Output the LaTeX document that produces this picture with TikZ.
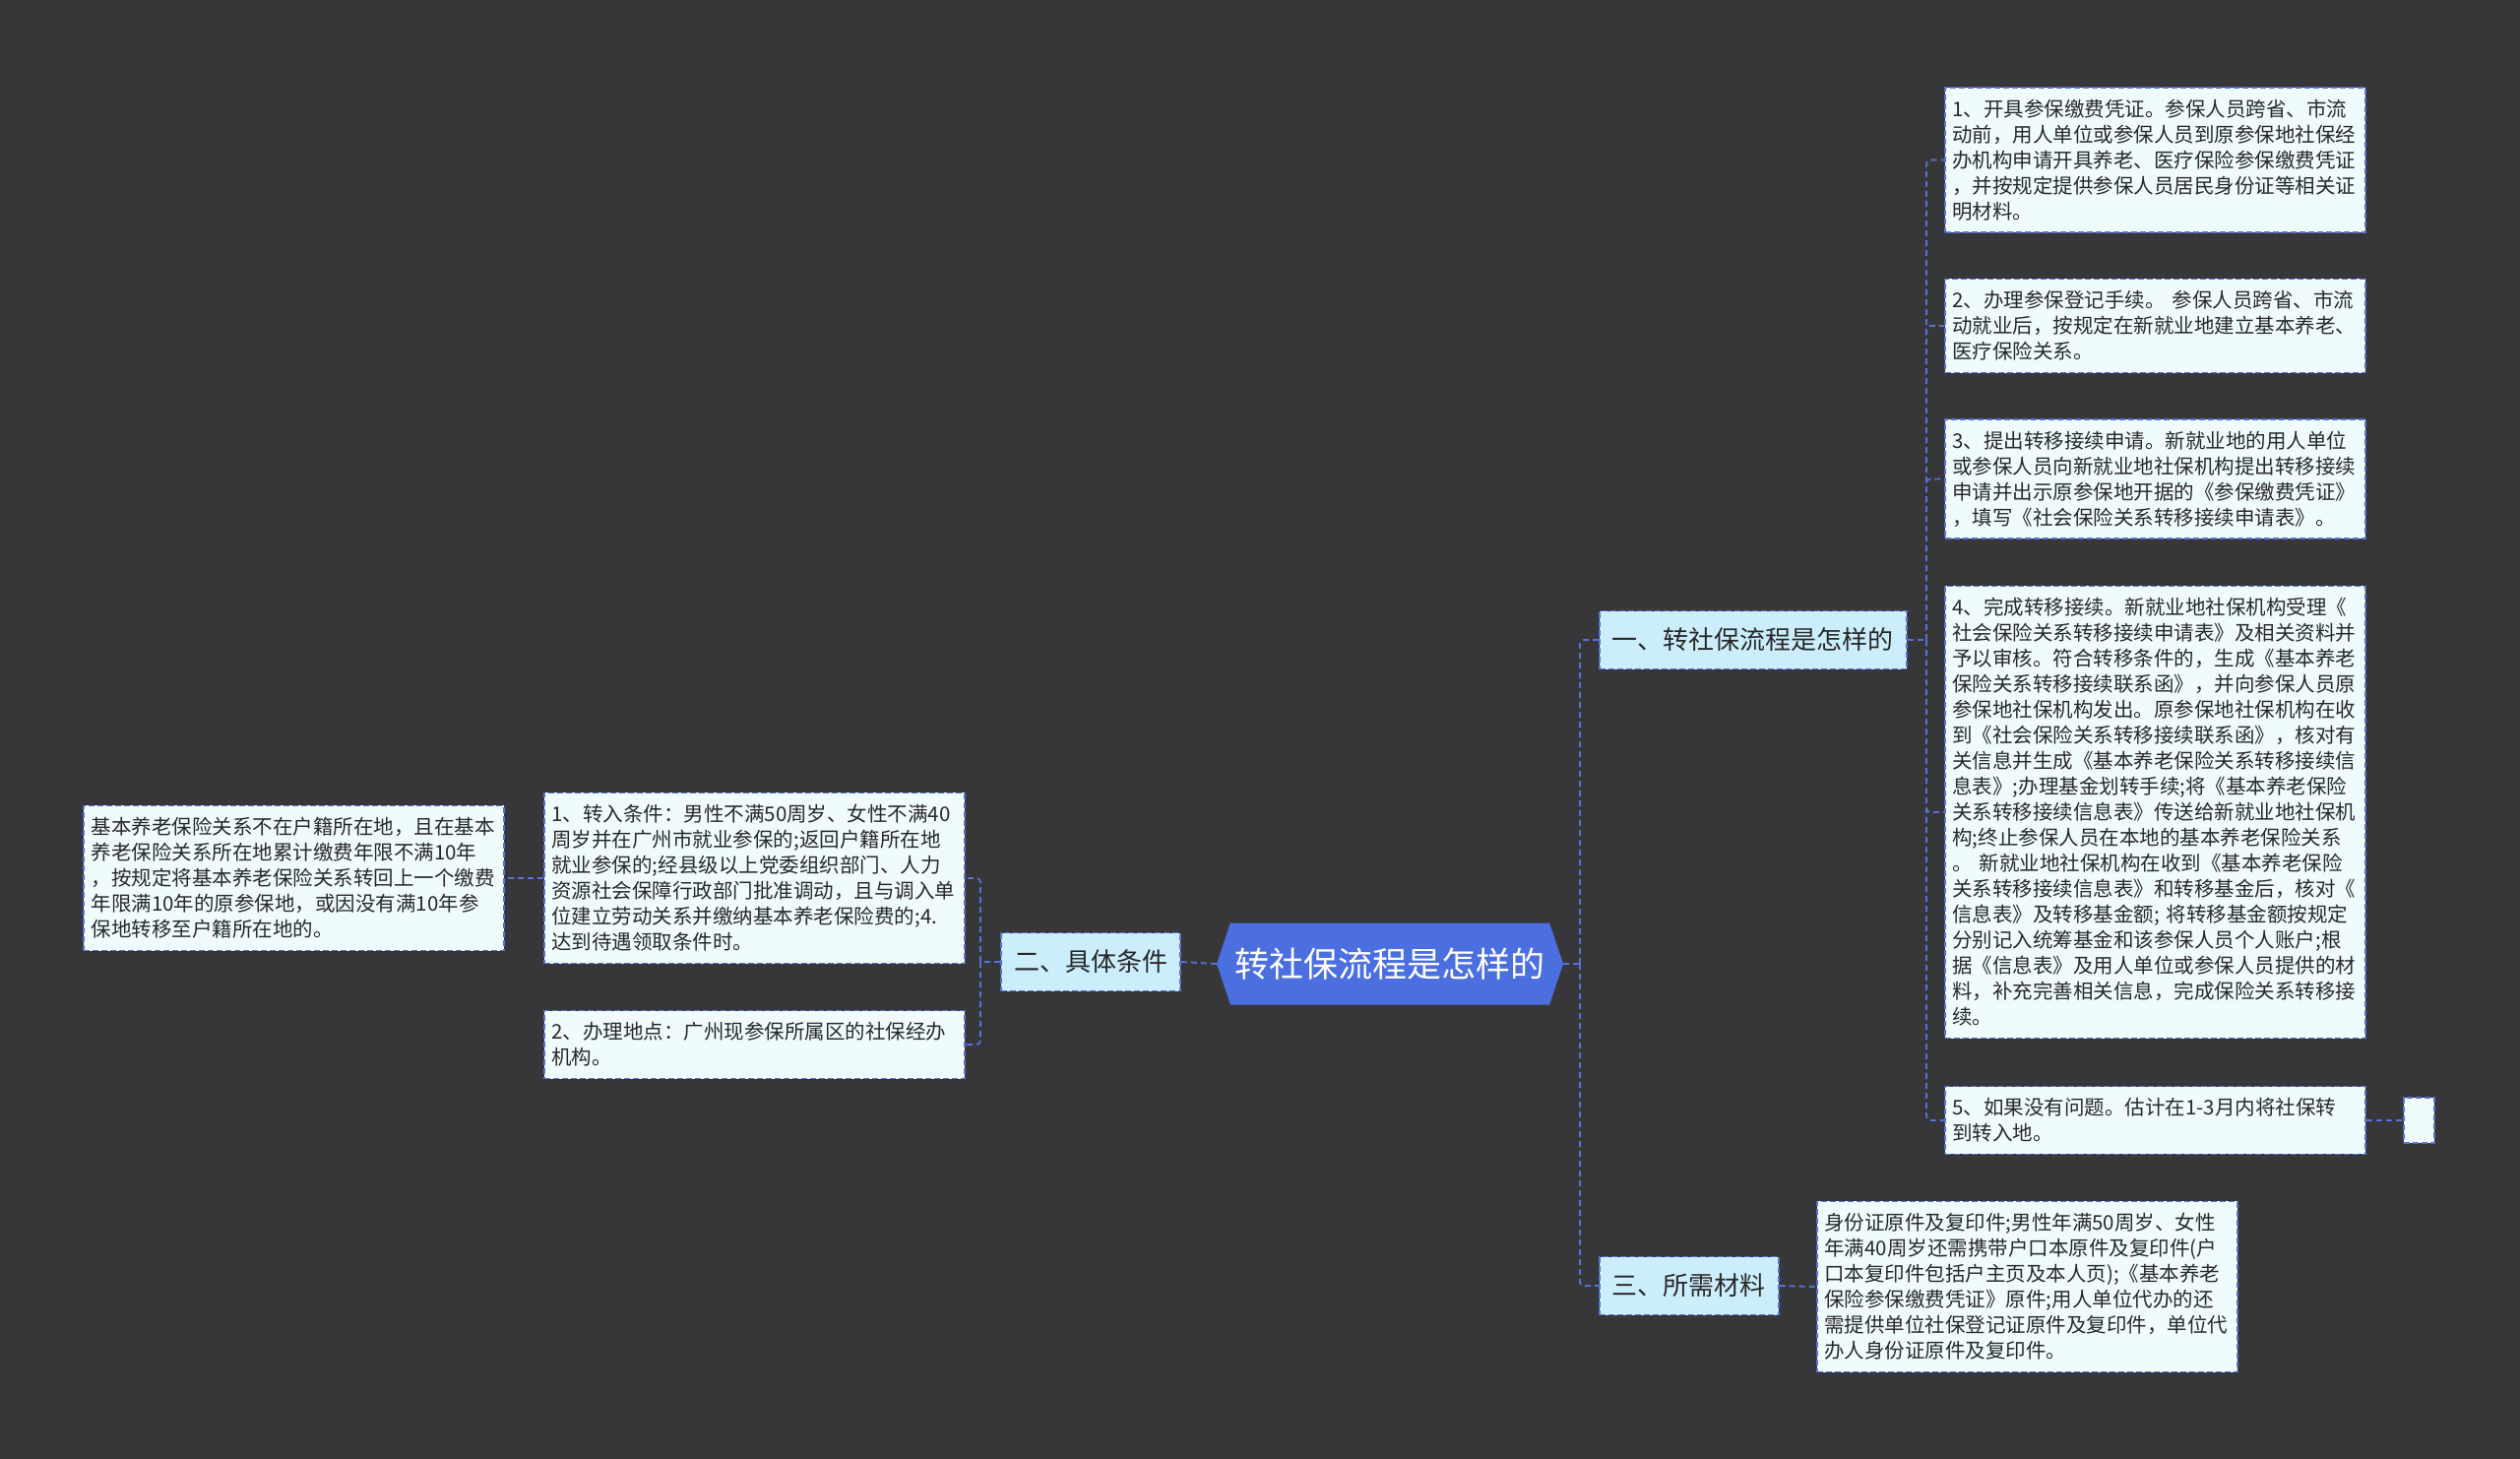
\documentclass[tikz,border=0pt]{standalone}
\usepackage{fontspec}
\setmainfont{Noto Sans CJK SC}
\definecolor{mapbg}{RGB}{55,55,58}
\definecolor{mapblue}{RGB}{76,111,224}
\definecolor{mapline}{RGB}{86,114,216}
\definecolor{topicfill}{RGB}{204,238,252}
\definecolor{leaffill}{RGB}{240,251,254}
\definecolor{maptext}{RGB}{40,40,40}
\usetikzlibrary{positioning,shapes.symbols}

\begin{document}
\begin{tikzpicture}[x=1pt, y=-1pt,
        rootbox/.style={signal, signal to=east and west, signal pointer angle=143,
                        fill=mapblue, text=white, minimum width=352pt, minimum height=83pt,
                        inner sep=0pt, font=\fontsize{35}{40}\selectfont},
        topicbox/.style={rectangle, draw=mapline, fill=topicfill, line width=1.6pt,
                         dash pattern=on 6pt off 3pt, text=maptext, inner xsep=13pt,
                         minimum height=59pt, font=\fontsize{26}{30}\selectfont},
        leafbox/.style={rectangle, draw=mapline, fill=leaffill, line width=1.6pt,
                        dash pattern=on 6pt off 3pt, text=maptext, align=left,
                        text width=412pt, inner xsep=7.5pt, inner ysep=12pt,
                        font=\fontsize{20.5}{26}\selectfont},
        link/.style={draw=mapline, line width=1.8pt, dash pattern=on 6pt off 4pt,
                     rounded corners=4pt}
      ]
        \fill[mapbg] (0,0) rectangle (2560,1482);

        \node[rootbox] (root) at (1412,979) {转社保流程是怎样的};

        \node[topicbox, anchor=west] (t1) at (1624,650) {一、转社保流程是怎样的};
        \node[topicbox, anchor=east] (t2) at (1200,977) {二、具体条件};
        \node[topicbox, anchor=west] (t3) at (1624,1306) {三、所需材料};

        \node[leafbox, anchor=west] (s1) at (1975,162.5) {1、开具参保缴费凭证。参保人员跨省、市流\\动前，用人单位或参保人员到原参保地社保经\\办机构申请开具养老、医疗保险参保缴费凭证\\，并按规定提供参保人员居民身份证等相关证\\明材料。};
        \node[leafbox, anchor=west] (s2) at (1975,331) {2、办理参保登记手续。 参保人员跨省、市流\\动就业后，按规定在新就业地建立基本养老、\\医疗保险关系。};
        \node[leafbox, anchor=west] (s3) at (1975,486.5) {3、提出转移接续申请。新就业地的用人单位\\或参保人员向新就业地社保机构提出转移接续\\申请并出示原参保地开据的《参保缴费凭证》\\，填写《社会保险关系转移接续申请表》。};
        \node[leafbox, anchor=west] (s4) at (1975,825) {4、完成转移接续。新就业地社保机构受理《\\社会保险关系转移接续申请表》及相关资料并\\予以审核。符合转移条件的，生成《基本养老\\保险关系转移接续联系函》，并向参保人员原\\参保地社保机构发出。原参保地社保机构在收\\到《社会保险关系转移接续联系函》，核对有\\关信息并生成《基本养老保险关系转移接续信\\息表》;办理基金划转手续;将《基本养老保险\\关系转移接续信息表》传送给新就业地社保机\\构;终止参保人员在本地的基本养老保险关系\\。 新就业地社保机构在收到《基本养老保险\\关系转移接续信息表》和转移基金后，核对《\\信息表》及转移基金额; 将转移基金额按规定\\分别记入统筹基金和该参保人员个人账户;根\\据《信息表》及用人单位或参保人员提供的材\\料，补充完善相关信息，完成保险关系转移接\\续。};
        \node[leafbox, anchor=west] (s5) at (1975,1138) {5、如果没有问题。估计在1-3月内将社保转\\到转入地。};
        \node[rectangle, draw=mapline, fill=leaffill, line width=1.6pt, dash pattern=on 6pt off 3pt,
              minimum width=31pt, minimum height=46pt, anchor=west] (blank) at (2441,1138) {};

        \node[leafbox, anchor=west] (mat) at (1845,1307) {身份证原件及复印件;男性年满50周岁、女性\\年满40周岁还需携带户口本原件及复印件(户\\口本复印件包括户主页及本人页);《基本养老\\保险参保缴费凭证》原件;用人单位代办的还\\需提供单位社保登记证原件及复印件，单位代\\办人身份证原件及复印件。};

        \node[leafbox, anchor=west] (c1) at (552,892) {1、转入条件：男性不满50周岁、女性不满40\\周岁并在广州市就业参保的;返回户籍所在地\\就业参保的;经县级以上党委组织部门、人力\\资源社会保障行政部门批准调动，且与调入单\\位建立劳动关系并缴纳基本养老保险费的;4.\\达到待遇领取条件时。};
        \node[leafbox, anchor=west] (c2) at (552,1061) {2、办理地点：广州现参保所属区的社保经办\\机构。};
        \node[leafbox, anchor=east] (far) at (513,892) {基本养老保险关系不在户籍所在地，且在基本\\养老保险关系所在地累计缴费年限不满10年\\，按规定将基本养老保险关系转回上一个缴费\\年限满10年的原参保地，或因没有满10年参\\保地转移至户籍所在地的。};

        \coordinate (hubr) at (1605,979);
        \coordinate (hubl) at (996,977);
        \coordinate (hubs) at (1957,650);

        \draw[link] (root.east) -- (hubr);
        \draw[link] (hubr) |- (t1.west);
        \draw[link] (hubr) |- (t3.west);
        \draw[link] (root.west) -- (t2.east);

        \draw[link] (t1.east) -- (hubs);
        \draw[link] (hubs) |- (s1.west);
        \draw[link] (hubs) |- (s2.west);
        \draw[link] (hubs) |- (s3.west);
        \draw[link] (hubs) |- (s4.west);
        \draw[link] (hubs) |- (s5.west);
        \draw[link] (s5.east) -- (blank.west);
        \draw[link] (t3.east) -- (mat.west);

        \draw[link] (t2.west) -- (hubl);
        \draw[link] (hubl) |- (c1.east);
        \draw[link] (hubl) |- (c2.east);
        \draw[link] (c1.west) -- (far.east);
      \end{tikzpicture}
\end{document}
